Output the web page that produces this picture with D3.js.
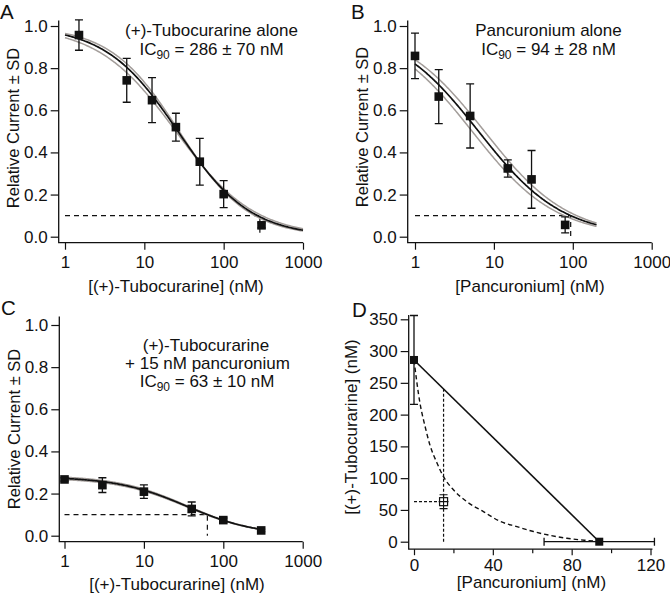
<!DOCTYPE html>
<html><head><meta charset="utf-8">
<script src="https://cdn.jsdelivr.net/npm/d3@7"></script>
<style>
body{margin:0;background:#fff}
svg{display:block}
text{font-family:"Liberation Sans",Arial,Helvetica,sans-serif;fill:#111}
</style></head><body><svg id="c" width="670" height="595"></svg>
<script>
// ---------- Panel A: (+)-Tubocurarine alone ----------
const concA = [1.5, 6, 12.5, 25, 50, 100, 300];
const respA = [0.957, 0.742, 0.648, 0.52, 0.356, 0.202, 0.054];
const sdA   = [0.072, 0.104, 0.107, 0.066, 0.111, 0.064, 0.012];
const fitA  = [26.5, 0.95, 1];             // IC50, Hill slope, top
const bandA = [[25, 0.88, 1], [27.5, 1.0, 1]];
const ic90A = 286;
const spanA = [1, 1000];
// ---------- Panel B: Pancuronium alone ----------
const concB = [1, 2, 5, 15, 30, 80];
const respB = [0.858, 0.665, 0.573, 0.324, 0.272, 0.056];
const sdB   = [0.108, 0.128, 0.152, 0.041, 0.137, 0.038];
const fitB  = [6.39, 0.817, 1];
const bandB = [[7.6, 0.817, 1], [5.3, 0.817, 1]];
const ic90B = 94;
const spanB = [1, 200];
// ---------- Panel C: (+)-Tubocurarine + 15 nM pancuronium ----------
const concC = [1, 3, 10, 40, 100, 300];
const respC = [0.267, 0.24, 0.209, 0.127, 0.074, 0.025];
const sdC   = [0.008, 0.035, 0.032, 0.033, 0.01, 0.006];
const fitC  = [34.6, 0.982, 0.28];
const bandC = [[34.6, 0.982, 0.286], [34.6, 0.982, 0.274]];
const ic90C = 63;
const spanC = [1, 300];
// ---------- shared ticks ----------
const logTicks = [1, 10, 100, 1000];
const respTicks = [0, 0.2, 0.4, 0.6, 0.8, 1.0];
// ---------- Panel D: isobologram ----------
const isoPanc   = [0, 94];
const isoTubo   = [286, 0];
const isoPancSD = [0, 28];
const isoTuboSD = [70, 0];
const mixPanc = [15], mixTubo = [63], mixPancSD = [2.5], mixTuboSD = [11];
const curvePanc = [0, 3, 5.6, 8.1, 11.5, 14.9, 20, 26.8, 35.2, 43.7, 52.2, 60.6, 77.6, 91, 94];
const curveTubo = [286, 218.6, 181.7, 152, 125, 102.7, 81.7, 63, 47.4, 32, 23.7, 16, 5.4, 1, 0];
const dXTicks = [0, 40, 80, 120];
const dXMinor = [20, 60, 100];
const dYTicks = [0, 50, 100, 150, 200, 250, 300, 350];

const svg = d3.select("#c");
const INK = "#111", GRAY = "#a39d9a";
const FS = 17;

function hill(p) { return x => p[2] / (1 + Math.pow(x / p[0], p[1])); }

function subText(g, x, y, pre, sub, post) {
  const t = g.append("text").attr("x", x).attr("y", y).attr("text-anchor", "middle").attr("font-size", FS);
  t.append("tspan").text(pre);
  t.append("tspan").attr("dy", 4).attr("font-size", 12).text(sub);
  t.append("tspan").attr("dy", -4).text(post);
}

function logPanel(o) {
  const g = svg.append("g");
  const x = d3.scaleLog().domain([1, 1000]).range([o.x1, o.x1000]);
  const y = d3.scaleLinear().domain([0, 1]).range([o.y0, o.y1]);
  // axes
  const ya = g.append("g").attr("transform", `translate(${o.ax},0)`)
    .call(d3.axisLeft(y).tickValues(respTicks).tickFormat(d3.format(".1f")).tickSize(8).tickPadding(3));
  const xa = g.append("g").attr("transform", `translate(0,${o.ay})`)
    .call(d3.axisBottom(x).tickValues(logTicks).tickFormat(d3.format("d")).tickSize(7).tickPadding(6));
  [ya, xa].forEach(a => { a.select(".domain").remove(); a.selectAll("line").attr("stroke", INK).attr("stroke-width", 1.2);
    a.selectAll("text").attr("font-size", FS).attr("font-family", null).attr("fill", INK); });
  g.append("path").attr("d", `M${o.ax},${o.ytop}V${o.ay}H${o.x1000}`).attr("fill", "none").attr("stroke", INK).attr("stroke-width", 1.3);
  // dashed IC90 guides
  g.append("path").attr("d", `M${x(1)},${y(0.1)}H${x(o.ic90)}V${y(0)}`).attr("fill", "none")
    .attr("stroke", INK).attr("stroke-width", 1.2).attr("stroke-dasharray", "5,4");
  // fitted curves
  const l0 = Math.log10(o.span[0]), l1 = Math.log10(o.span[1]);
  const xs = d3.range(0, 201).map(i => Math.pow(10, l0 + (l1 - l0) * i / 200));
  const line = d3.line().x(d => x(d[0])).y(d => y(d[1]));
  o.band.forEach(p => { const f = hill(p);
    g.append("path").attr("d", line(xs.map(v => [v, f(v)]))).attr("fill", "none").attr("stroke", GRAY).attr("stroke-width", 1.5); });
  const f = hill(o.fit);
  g.append("path").attr("d", line(xs.map(v => [v, f(v)]))).attr("fill", "none").attr("stroke", INK).attr("stroke-width", 1.7);
  // error bars + markers
  o.conc.forEach((c, i) => {
    const cx = x(c), r = o.resp[i], s = o.sd[i];
    g.append("path").attr("d", `M${cx},${y(r + s)}V${y(r - s)}M${cx - 4},${y(r + s)}h8M${cx - 4},${y(r - s)}h8`)
      .attr("stroke", INK).attr("stroke-width", 1.3).attr("fill", "none");
    g.append("rect").attr("x", cx - 4.3).attr("y", y(r) - 4.3).attr("width", 8.6).attr("height", 8.6).attr("fill", INK);
  });
  // labels
  g.append("text").attr("x", o.lab[0]).attr("y", o.lab[1]).attr("font-size", 20.5).text(o.letter);
  g.append("text").attr("transform", `translate(${o.yt[0]},${o.yt[1]}) rotate(-90)`).attr("text-anchor", "middle")
    .attr("font-size", 16.5).text("Relative Current ± SD");
  g.append("text").attr("x", o.xt[0]).attr("y", o.xt[1]).attr("text-anchor", "middle").attr("font-size", FS).text(o.xtitle);
  o.notes.forEach(n => {
    if (n.sub) subText(g, n.x, n.y, "IC", "90", n.post);
    else g.append("text").attr("x", n.x).attr("y", n.y).attr("text-anchor", "middle").attr("font-size", FS).text(n.t);
  });
}

logPanel({ letter: "A", lab: [0, 18.7], x1: 65, x1000: 303, y0: 236.7, y1: 26, ax: 58.7, ay: 242.7, ytop: 20.5,
  conc: concA, resp: respA, sd: sdA, fit: fitA, band: bandA, ic90: ic90A, span: spanA,
  yt: [19, 128], xt: [176, 291.5], xtitle: "[(+)-Tubocurarine] (nM)",
  notes: [{ t: "(+)-Tubocurarine alone", x: 211.5, y: 36 }, { sub: true, post: " = 286 ± 70 nM", x: 211.5, y: 54.5 }] });

logPanel({ letter: "B", lab: [351, 18.7], x1: 415, x1000: 651.7, y0: 236.7, y1: 26, ax: 407.7, ay: 242.7, ytop: 20.5,
  conc: concB, resp: respB, sd: sdB, fit: fitB, band: bandB, ic90: ic90B, span: spanB,
  yt: [368, 127], xt: [530, 291.5], xtitle: "[Pancuronium] (nM)",
  notes: [{ t: "Pancuronium alone", x: 548.5, y: 36 }, { sub: true, post: " = 94 ± 28 nM", x: 548.5, y: 54.5 }] });

logPanel({ letter: "C", lab: [1, 315], x1: 64.5, x1000: 302.7, y0: 535.7, y1: 325, ax: 59.3, ay: 541.7, ytop: 316.5,
  conc: concC, resp: respC, sd: sdC, fit: fitC, band: bandC, ic90: ic90C, span: spanC,
  yt: [20, 429], xt: [177, 590], xtitle: "[(+)-Tubocurarine] (nM)",
  notes: [{ t: "(+)-Tubocurarine", x: 206, y: 351 }, { t: "+ 15 nM pancuronium", x: 207.5, y: 368.7 },
          { sub: true, post: " = 63 ± 10 nM", x: 207, y: 387 }] });

// ---------- Panel D ----------
(function () {
  const g = svg.append("g");
  const x = d3.scaleLinear().domain([0, 120]).range([414, 650.5]);
  const y = d3.scaleLinear().domain([0, 350]).range([541.7, 319.3]);
  const AX = 408.7, AY = 549.2;
  const ya = g.append("g").attr("transform", `translate(${AX},0)`)
    .call(d3.axisLeft(y).tickValues(dYTicks).tickFormat(d3.format("d")).tickSize(8).tickPadding(3));
  const xa = g.append("g").attr("transform", `translate(0,${AY})`)
    .call(d3.axisBottom(x).tickValues(dXTicks).tickFormat(d3.format("d")).tickSize(6).tickPadding(3.5));
  const xm = g.append("g").attr("transform", `translate(0,${AY})`)
    .call(d3.axisBottom(x).tickValues(dXMinor).tickFormat("").tickSize(4));
  [ya, xa, xm].forEach(a => { a.select(".domain").remove(); a.selectAll("line").attr("stroke", INK).attr("stroke-width", 1.2);
    a.selectAll("text").attr("font-size", FS).attr("font-family", null).attr("fill", INK); });
  g.append("path").attr("d", `M${AX},315V${AY}H${x(121)}`).attr("fill", "none").attr("stroke", INK).attr("stroke-width", 1.3);
  // dotted guides to mixture point
  const mx = mixPanc[0], my = mixTubo[0];
  const addLine = isoTubo[0] * (1 - mx / isoPanc[1]);
  g.append("path").attr("d", `M${x(mx)},${y(0)}V${y(addLine)}`).attr("stroke", INK).attr("stroke-width", 1.2).attr("stroke-dasharray", "3,2").attr("fill", "none");
  g.append("path").attr("d", `M${x(0)},${y(my)}H${x(mx)}`).attr("stroke", INK).attr("stroke-width", 1.2).attr("stroke-dasharray", "3,2").attr("fill", "none");
  // dashed isobole curve
  const cl = d3.line().x(d => x(d[0])).y(d => y(d[1])).curve(d3.curveMonotoneX);
  g.append("path").attr("d", cl(curvePanc.map((p, i) => [p, curveTubo[i]]))).attr("fill", "none")
    .attr("stroke", INK).attr("stroke-width", 1.4).attr("stroke-dasharray", "4.5,3");
  // additive line
  g.append("path").attr("d", d3.line().x(d => x(d[0])).y(d => y(d[1]))(isoPanc.map((p, i) => [p, isoTubo[i]])))
    .attr("stroke", INK).attr("stroke-width", 1.6).attr("fill", "none");
  // error bars
  isoPanc.forEach((p, i) => {
    const t = isoTubo[i], sx = isoPancSD[i], sy = isoTuboSD[i];
    let d = "";
    if (sy > 0) d += `M${x(p)},${y(t + sy)}V${y(t - sy)}M${x(p) - 4},${y(t + sy)}h8M${x(p) - 4},${y(t - sy)}h8`;
    if (sx > 0) d += `M${x(p - sx)},${y(t)}H${x(p + sx)}M${x(p - sx)},${y(t) - 4}v8M${x(p + sx)},${y(t) - 4}v8`;
    g.append("path").attr("d", d).attr("stroke", INK).attr("stroke-width", 1.3).attr("fill", "none");
    g.append("rect").attr("x", x(p) - 4).attr("y", y(t) - 4).attr("width", 8).attr("height", 8).attr("fill", INK);
  });
  // mixture point (open square with error bars)
  const sx = mixPancSD[0], sy = mixTuboSD[0];
  g.append("rect").attr("x", x(mx) - 4).attr("y", y(my) - 4).attr("width", 8).attr("height", 8).attr("fill", "#fff").attr("stroke", INK).attr("stroke-width", 1.2);
  g.append("path").attr("d", `M${x(mx)},${y(my + sy)}V${y(my - sy)}M${x(mx) - 4},${y(my + sy)}h8M${x(mx) - 4},${y(my - sy)}h8M${x(mx - sx)},${y(my)}H${x(mx + sx)}`)
    .attr("stroke", INK).attr("stroke-width", 1.1).attr("fill", "none");
  // labels
  g.append("text").attr("x", 352).attr("y", 317).attr("font-size", 20.5).text("D");
  g.append("text").attr("transform", "translate(357,427) rotate(-90)").attr("text-anchor", "middle").attr("font-size", FS).text("[(+)-Tubocurarine] (nM)");
  g.append("text").attr("x", 531.5).attr("y", 588).attr("text-anchor", "middle").attr("font-size", FS).text("[Pancuronium] (nM)");
})();
</script></body></html>
